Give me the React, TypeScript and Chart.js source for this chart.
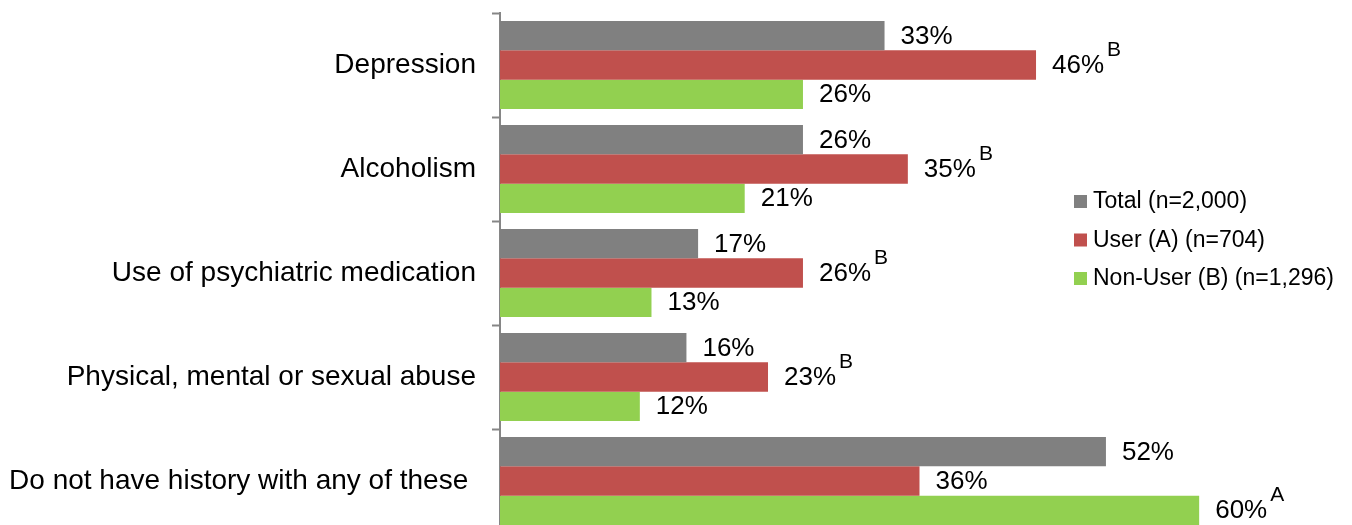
import React, { useEffect, useRef } from "react";
import { Chart, registerables } from "chart.js";

Chart.register(...registerables);

const categories = [
  "Depression",
  "Alcoholism",
  "Use of psychiatric medication",
  "Physical, mental or sexual abuse",
  "Do not have history with any of these ",
];
const seriesNames = ["Total (n=2,000)", "User (A) (n=704)", "Non-User (B) (n=1,296)"];
const totalValues = [33, 26, 17, 16, 52];
const userValues = [46, 35, 26, 23, 36];
const nonUserValues = [26, 21, 13, 12, 60];
const totalSup = ["", "", "", "", ""];
const userSup = ["B", "B", "B", "B", ""];
const nonUserSup = ["", "", "", "", "A"];
const colors = ["#808080", "#C0504D", "#92D050"];

const FONT = "'Liberation Sans', Arial, sans-serif";

const labelPlugin = {
  id: "valueLabels",
  afterDatasetsDraw(chart: any) {
    const ctx = chart.ctx;
    const sups = [totalSup, userSup, nonUserSup];
    ctx.save();
    chart.data.datasets.forEach((ds: any, di: number) => {
      const meta = chart.getDatasetMeta(di);
      meta.data.forEach((el: any, i: number) => {
        const txt = ds.data[i] + "%";
        ctx.font = `26px ${FONT}`;
        ctx.fillStyle = "#000";
        ctx.textAlign = "left";
        ctx.textBaseline = "middle";
        const x = el.x + 16;
        const y = el.y + 1;
        ctx.fillText(txt, x, y);
        const s = sups[di][i];
        if (s) {
          const w = ctx.measureText(txt).width;
          ctx.font = `21px ${FONT}`;
          ctx.fillText(s, x + w + 3, y - 16);
        }
      });
    });
    ctx.restore();
  },
};

const legendPlugin = {
  id: "customLegend",
  afterDraw(chart: any) {
    const ctx = chart.ctx;
    ctx.save();
    const x0 = 1074;
    const y0 = 202;
    const gap = 38.5;
    chart.data.datasets.forEach((ds: any, i: number) => {
      const cy = y0 + i * gap;
      ctx.fillStyle = ds.backgroundColor;
      ctx.fillRect(x0, cy - 7, 13, 13);
      ctx.fillStyle = "#000";
      ctx.font = `23px ${FONT}`;
      ctx.textAlign = "left";
      ctx.textBaseline = "middle";
      ctx.fillText(ds.label, x0 + 19, cy);
    });
    ctx.restore();
  },
};

export default function App() {
  const ref = useRef<HTMLCanvasElement>(null);
  useEffect(() => {
    if (!ref.current) return;
    const chart = new Chart(ref.current, {
      type: "bar",
      data: {
        labels: categories,
        datasets: [
          { label: seriesNames[0], data: totalValues, backgroundColor: colors[0] },
          { label: seriesNames[1], data: userValues, backgroundColor: colors[1] },
          { label: seriesNames[2], data: nonUserValues, backgroundColor: colors[2] },
        ],
      },
      options: {
        indexAxis: "y",
        responsive: false,
        animation: false,
        devicePixelRatio: 1,
        layout: { padding: { top: 13, bottom: 12, left: 0, right: 13 } },
        datasets: {
          bar: { categoryPercentage: 0.846, barPercentage: 1.0 },
        },
        plugins: {
          legend: { display: false },
          tooltip: { enabled: false },
        },
        scales: {
          x: { display: false, min: 0, max: 72 },
          y: {
            afterFit: (s: any) => {
              s.width = 500;
              s.paddingTop = 0;
              s.paddingBottom = 0;
            },
            grid: {
              drawOnChartArea: false,
              drawTicks: true,
              tickLength: 8,
              tickWidth: 2,
              tickColor: "#868686",
              offset: true,
            },
            border: { display: true, color: "#868686", width: 2 },
            ticks: {
              color: "#000",
              padding: 16,
              font: { family: FONT, size: 28 },
            },
          },
        },
      },
      plugins: [labelPlugin, legendPlugin],
    } as any);
    return () => chart.destroy();
  }, []);
  return (
    <div
      style={{
        position: "absolute",
        left: 0,
        top: 0,
        width: 1352,
        height: 525,
        overflow: "hidden",
        background: "#fff",
      }}
    >
      <canvas ref={ref} width={1352} height={545} style={{ display: "block" }} />
    </div>
  );
}
